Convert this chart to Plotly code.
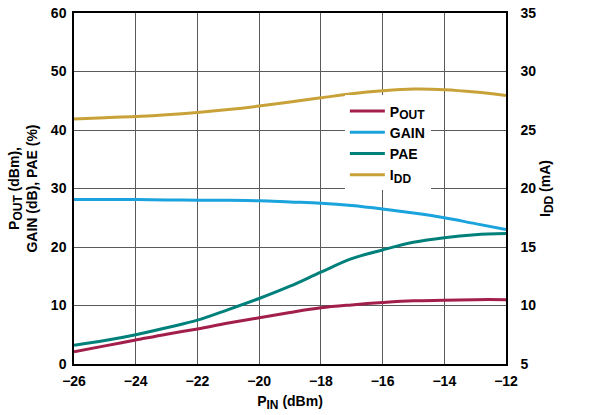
import plotly.graph_objects as go

pin = [-26, -25, -24, -23, -22, -21, -20, -19, -18, -17, -16, -15, -14, -13, -12]
pout = [2.1, 3.1, 4.1, 5.1, 6.0, 7.0, 7.9, 8.8, 9.6, 10.1, 10.5, 10.8, 10.9, 11.0, 11.0]
gain = [28.1, 28.1, 28.1, 28.05, 28.0, 28.0, 27.9, 27.7, 27.5, 27.1, 26.5, 25.8, 25.0, 24.0, 23.0]
pae = [3.2, 4.0, 5.0, 6.2, 7.5, 9.3, 11.2, 13.3, 15.7, 18.0, 19.5, 20.8, 21.6, 22.1, 22.3]
idd = [25.95, 26.05, 26.15, 26.3, 26.5, 26.75, 27.05, 27.4, 27.75, 28.1, 28.35, 28.5, 28.45, 28.25, 27.95]

x_ticks = [-26, -24, -22, -20, -18, -16, -14, -12]
x_labels = ["\u221226", "\u221224", "\u221222", "\u221220", "\u221218", "\u221216", "\u221214", "\u221212"]
y_ticks = [0, 10, 20, 30, 40, 50, 60]
y2_ticks = [5, 10, 15, 20, 25, 30, 35]

FONT = "Liberation Sans"
SUB = "<sub><span style='font-size:12px'>%s</span></sub>"

fig = go.Figure()
fig.add_trace(go.Scatter(x=pin, y=pout, name="<b>P" + SUB % "OUT" + "</b>", mode="lines",
                         line=dict(color="#A31F4B", width=3, shape="spline")))
fig.add_trace(go.Scatter(x=pin, y=gain, name="<b>GAIN</b>", mode="lines",
                         line=dict(color="#1AA3DC", width=3, shape="spline")))
fig.add_trace(go.Scatter(x=pin, y=pae, name="<b>PAE</b>", mode="lines",
                         line=dict(color="#00807A", width=3, shape="spline")))
fig.add_trace(go.Scatter(x=pin, y=idd, name="<b>I" + SUB % "DD" + "</b>", mode="lines", yaxis="y2",
                         line=dict(color="#C8A238", width=3, shape="spline")))

fig.update_layout(
    width=590, height=415,
    margin=dict(l=74, r=84, t=13, b=51, autoexpand=False),
    paper_bgcolor="white", plot_bgcolor="white",
    font=dict(family=FONT, size=14, color="black"),
    showlegend=True,
    legend=dict(x=0.627, y=0.765, xanchor="left", yanchor="top", itemwidth=35,
                bgcolor="white", borderwidth=0, tracegroupgap=0,
                font=dict(family=FONT, size=14, color="black")),
    xaxis=dict(range=[-26, -12], tickvals=x_ticks, ticktext=["<b>%s</b>" % t for t in x_labels],
               showgrid=True, gridcolor="#5a5a5a", gridwidth=1,
               showline=True, linecolor="black", linewidth=1.5, mirror=True,
               zeroline=False, ticks="", automargin=False, ticklabelstandoff=3,
               title=dict(text="<b>P" + SUB % "IN" + " (dBm)</b>", font=dict(size=14), standoff=9)),
    yaxis=dict(range=[0, 60], tickvals=y_ticks,
               ticktext=["<b>%d</b>" % v for v in y_ticks],
               showgrid=True, gridcolor="#5a5a5a", gridwidth=1,
               showline=True, linecolor="black", linewidth=1.5,
               zeroline=False, ticks="", automargin=False, ticklabelstandoff=3,
               title=dict(text="<b>P" + SUB % "OUT" + " (dBm),<br>GAIN (dB), PAE (%)</b>",
                          font=dict(size=14), standoff=10)),
    yaxis2=dict(range=[5, 35], tickvals=y2_ticks,
                ticktext=["<b>%d</b>" % v for v in y2_ticks],
                overlaying="y", side="right", showgrid=False,
                showline=True, linecolor="black", linewidth=1.5,
                zeroline=False, ticks="", automargin=False, ticklabelstandoff=10,
                title=dict(text="<b>I" + SUB % "DD" + " (mA)</b>", font=dict(size=14), standoff=5)),
)

fig.write_html("out.html", config={"displayModeBar": False},
               post_script="document.body.style.margin='0';")
